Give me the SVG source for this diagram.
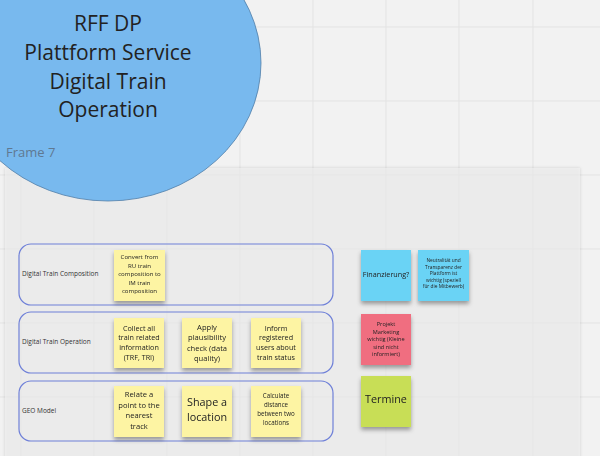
<svg xmlns="http://www.w3.org/2000/svg" width="600" height="456" viewBox="0 0 600 456">
<defs>
<filter id="fshadow" x="-5%" y="-5%" width="110%" height="110%">
<feDropShadow dx="0" dy="0" stdDeviation="1.5" flood-color="#000" flood-opacity="0.25"/>
</filter>
<filter id="nshadow" x="-20%" y="-20%" width="140%" height="150%">
<feDropShadow dx="0" dy="3" stdDeviation="2" flood-color="#000" flood-opacity="0.35"/>
</filter>
<style>
.grid{stroke:#e3e3e3;stroke-width:1}
.row{fill:none;stroke:#6f80d8;stroke-width:1.2}
.lbl{font-family:"Open Sans","Noto Sans",sans-serif;font-size:6.5px;fill:#333}
.t{font-family:"Open Sans","Noto Sans",sans-serif;fill:#222;text-anchor:middle}
.yel{fill:#fdf4a3}
.note{filter:url(#nshadow)}
</style>
</defs>
<rect width="600" height="456" fill="#f2f2f2"/>
<g id="grid">
<line class="grid" x1="21" y1="0" x2="21" y2="456"/>
<line class="grid" x1="94" y1="0" x2="94" y2="456"/>
<line class="grid" x1="167" y1="0" x2="167" y2="456"/>
<line class="grid" x1="240" y1="0" x2="240" y2="456"/>
<line class="grid" x1="313" y1="0" x2="313" y2="456"/>
<line class="grid" x1="386" y1="0" x2="386" y2="456"/>
<line class="grid" x1="459" y1="0" x2="459" y2="456"/>
<line class="grid" x1="533" y1="0" x2="533" y2="456"/>
<line class="grid" x1="0" y1="27" x2="600" y2="27"/>
<line class="grid" x1="0" y1="101" x2="600" y2="101"/>
<line class="grid" x1="0" y1="175" x2="600" y2="175"/>
<line class="grid" x1="0" y1="249" x2="600" y2="249"/>
<line class="grid" x1="0" y1="323" x2="600" y2="323"/>
<line class="grid" x1="0" y1="397" x2="600" y2="397"/>
</g>
<g id="frame">
<rect x="5" y="168" width="575" height="300" fill="#f1f1f1" fill-opacity="0.6" filter="url(#fshadow)"/>
</g>
<g id="title">
<ellipse cx="108" cy="63" rx="153" ry="138" fill="#78b9ee" stroke="#4f7ea8" stroke-width="0.8"/>
<text class="t" x="108" y="31" font-size="21" fill="#1e2b38">RFF DP</text>
<text class="t" x="108" y="60" font-size="21" fill="#1e2b38">Plattform Service</text>
<text class="t" x="108" y="88.5" font-size="21" fill="#1e2b38">Digital Train</text>
<text class="t" x="108" y="117" font-size="21" fill="#1e2b38">Operation</text>
<text x="6" y="157" font-family="'Open Sans','Noto Sans',sans-serif" font-size="13" fill="#5f7891">Frame 7</text>
</g>
<g id="rows">
<g id="row-composition">
<rect class="row" x="19" y="244" width="314" height="61" rx="12"/>
<text class="lbl" x="22" y="276">Digital Train Composition</text>
</g>
<g id="row-operation">
<rect class="row" x="19" y="312" width="314" height="61" rx="12"/>
<text class="lbl" x="22" y="344">Digital Train Operation</text>
</g>
<g id="row-geo">
<rect class="row" x="19" y="381" width="314" height="60" rx="12"/>
<text class="lbl" x="22" y="413">GEO Model</text>
</g>
</g>
<g id="note-convert" class="note">
<rect class="yel" x="114" y="250" width="51" height="51"/>
<text class="t" font-size="6.1"><tspan x="139.5" y="259">Convert from</tspan><tspan x="139.5" y="267.5">RU train</tspan><tspan x="139.5" y="276">composition to</tspan><tspan x="139.5" y="284.5">IM train</tspan><tspan x="139.5" y="293">composition</tspan></text>
</g>
<g id="note-collect" class="note">
<rect class="yel" x="114" y="318" width="50" height="50"/>
<text class="t" font-size="7.2"><tspan x="139" y="330.5">Collect all</tspan><tspan x="139" y="340.3">train related</tspan><tspan x="139" y="350.1">information</tspan><tspan x="139" y="359.9">(TRF, TRI)</tspan></text>
</g>
<g id="note-apply" class="note">
<rect class="yel" x="182" y="318" width="50" height="50"/>
<text class="t" font-size="7.6"><tspan x="207" y="329.5">Apply</tspan><tspan x="207" y="340">plausibility</tspan><tspan x="207" y="350.5">check (data</tspan><tspan x="207" y="361">quality)</tspan></text>
</g>
<g id="note-inform" class="note">
<rect class="yel" x="251" y="318" width="50" height="50"/>
<text class="t" font-size="7.2"><tspan x="276" y="330.5">Inform</tspan><tspan x="276" y="340.3">registered</tspan><tspan x="276" y="350.1">users about</tspan><tspan x="276" y="359.9">train status</tspan></text>
</g>
<g id="note-relate" class="note">
<rect class="yel" x="114" y="386" width="50" height="51"/>
<text class="t" font-size="7.6"><tspan x="139" y="397">Relate a</tspan><tspan x="139" y="407.5">point to the</tspan><tspan x="139" y="418">nearest</tspan><tspan x="139" y="428.5">track</tspan></text>
</g>
<g id="note-shape" class="note">
<rect class="yel" x="182" y="386" width="50" height="51"/>
<text class="t" font-size="10.8"><tspan x="207" y="406">Shape a</tspan><tspan x="207" y="421">location</tspan></text>
</g>
<g id="note-calculate" class="note">
<rect class="yel" x="251" y="386" width="50" height="51"/>
<text class="t" font-size="6.2" fill="#333"><tspan x="276" y="398">Calculate</tspan><tspan x="276" y="407">distance</tspan><tspan x="276" y="416">between two</tspan><tspan x="276" y="425">locations</tspan></text>
</g>
<g id="note-finanzierung" class="note">
<rect x="361" y="250" width="50" height="51" fill="#6bd3f5"/>
<text class="t" font-size="7.2" x="386" y="277">Finanzierung?</text>
</g>
<g id="note-neutralitaet" class="note">
<rect x="418" y="250" width="51" height="51" fill="#6bd3f5"/>
<text class="t" font-size="4.8"><tspan x="443.5" y="262">Neutralität und</tspan><tspan x="443.5" y="268.5">Transparenz der</tspan><tspan x="443.5" y="275">Plattform ist</tspan><tspan x="443.5" y="281.5">wichtig (speziell</tspan><tspan x="443.5" y="288">für die Mitbewerb)</tspan></text>
</g>
<g id="note-marketing" class="note">
<rect x="361" y="314" width="50" height="51" fill="#f06e80"/>
<text class="t" font-size="5.6"><tspan x="386" y="326">Projekt</tspan><tspan x="386" y="333.6">Marketing</tspan><tspan x="386" y="341.2">wichtig (Kleine</tspan><tspan x="386" y="348.8">sind nicht</tspan><tspan x="386" y="356.4">informiert)</tspan></text>
</g>
<g id="note-termine" class="note">
<rect x="361" y="376" width="50" height="51" fill="#c8de56"/>
<text class="t" font-size="10.8" x="386" y="403">Termine</text>
</g>
</svg>
